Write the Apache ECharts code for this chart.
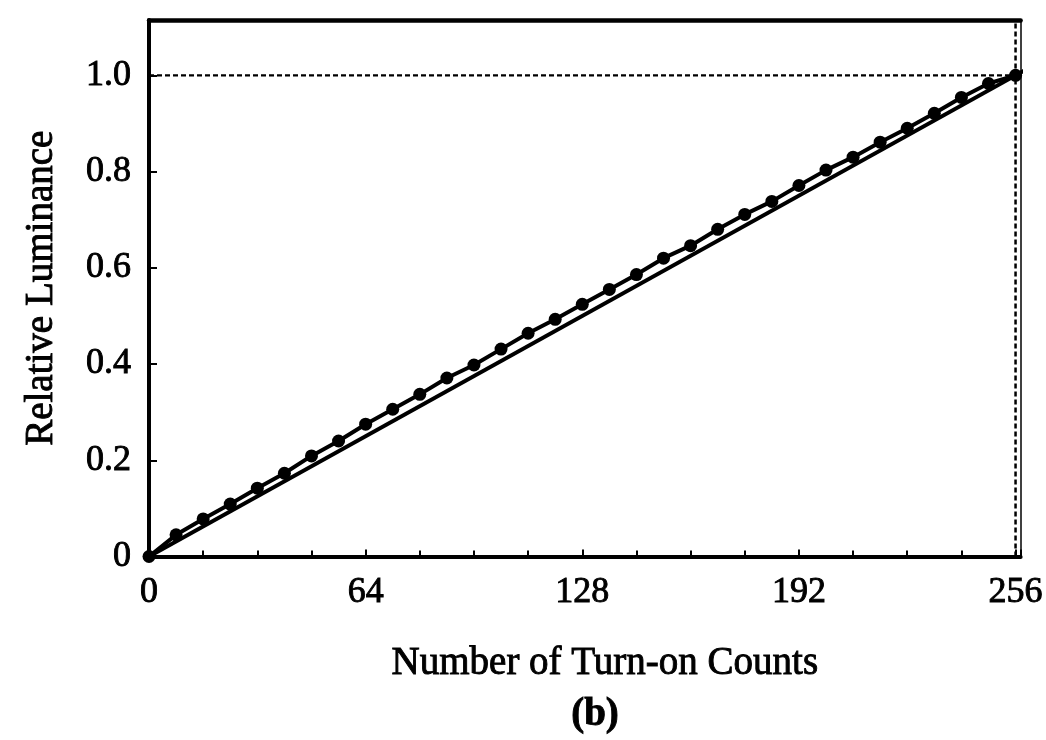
<!DOCTYPE html>
<html>
<head>
<meta charset="utf-8">
<script src="https://cdn.jsdelivr.net/npm/echarts@6/dist/echarts.min.js"></script>
<style>
html,body{margin:0;padding:0;background:#fff;}
#chart{width:1046px;height:740px;}
</style>
</head>
<body>
<div id="chart"></div>
<script>
// Measured points (turn-on counts vs relative luminance)
var counts = [0,8,16,24,32,40,48,56,64,72,80,88,96,104,112,120,128,136,144,152,160,168,176,184,192,200,208,216,224,232,240,248,256];
var luminance = [0,0.045,0.078,0.109,0.142,0.173,0.209,0.240,0.275,0.306,0.337,0.371,0.398,0.431,0.464,0.493,0.524,0.555,0.586,0.620,0.646,0.680,0.711,0.738,0.771,0.803,0.830,0.861,0.890,0.921,0.954,0.983,1.0];
// Ideal linear line (extends past the frame)
var idealX = [0, 265];
var idealY = [0, 1.035];
// Reference lines
var refHX = [0, 265];
var refHY = [1.0, 1.0];
var refVX = [256, 256];
var refVY = [0, 1.115];
// Tick labels
var xTicks = [0, 64, 128, 192, 256];
var yTicks = [0, 0.2, 0.4, 0.6, 0.8, 1.0];
var yTickLabels = ['0', '0.2', '0.4', '0.6', '0.8', '1.0'];

function pairs(xs, ys){ return xs.map(function(x,i){ return [x, ys[i]]; }); }

var FONT = '"Liberation Serif", "DejaVu Serif", serif';
function ts(size, extra){
  var o = {fontFamily:FONT, fontSize:size, color:'#000', textBorderColor:'#000', textBorderWidth:0.9};
  for (var k in (extra||{})) o[k] = extra[k];
  return o;
}
var chart = echarts.init(document.getElementById('chart'), null, {renderer:'canvas'});
chart.setOption({
  backgroundColor:'#fff',
  animation:false,
  title:[{
    text:'(b)', left:590, top:690, textAlign:'center',
    textStyle:ts(39, {fontWeight:'bold'})
  }],
  grid:{left:149, top:20, width:874, height:536.5, containLabel:false},
  xAxis:[{
    type:'value', min:0, max:257.5, interval:64,
    name:'Number of Turn-on Counts', nameLocation:'middle', nameGap:88,
    nameTextStyle:ts(39, {padding:[0,0,0,40]}),
    axisLine:{show:true, onZero:false, lineStyle:{color:'#000', width:4}},
    axisTick:{show:true, inside:true, length:7, lineStyle:{color:'#000', width:2}},
    minorTick:{show:true, splitNumber:4, length:6, lineStyle:{color:'#000', width:2}},
    splitLine:{show:false},
    axisLabel:ts(36, {margin:18,
      formatter:function(v){ return xTicks.indexOf(v) >= 0 ? String(v) : ''; }})
  },{
    type:'value', position:'top', min:0, max:257.5,
    axisLine:{show:true, onZero:false, lineStyle:{color:'#000', width:4.5}},
    axisTick:{show:false}, axisLabel:{show:false}, splitLine:{show:false}
  }],
  yAxis:[{
    type:'value', min:0, max:1.115, interval:0.2,
    name:'Relative Luminance', nameLocation:'middle', nameGap:88,
    nameTextStyle:ts(39),
    axisLine:{show:true, onZero:false, lineStyle:{color:'#000', width:4}},
    axisTick:{show:true, inside:true, length:8, lineStyle:{color:'#000', width:2}},
    splitLine:{show:false},
    axisLabel:ts(36, {margin:18,
      formatter:function(v){
        for (var i=0;i<yTicks.length;i++){ if (Math.abs(v-yTicks[i])<1e-6) return yTickLabels[i]; }
        return '';
      }})
  },{
    type:'value', position:'right', min:0, max:1.115,
    axisLine:{show:true, onZero:false, lineStyle:{color:'#000', width:1.5}},
    axisTick:{show:false}, axisLabel:{show:false}, splitLine:{show:false}
  }],
  series:[{
    type:'line', data:pairs(refHX, refHY), clip:false, symbol:'none', silent:true,
    lineStyle:{color:'#000', width:2.2, type:[5,3]}
  },{
    type:'line', data:pairs(refVX, refVY), symbol:'none', silent:true,
    lineStyle:{color:'#000', width:2.5, type:[5,3]}
  },{
    type:'line', data:pairs(idealX, idealY), clip:false, symbol:'none', silent:true,
    lineStyle:{color:'#000', width:4}
  },{
    type:'line', data:pairs(counts, luminance), clip:false, symbol:'circle', symbolSize:13, silent:true,
    itemStyle:{color:'#000'}, lineStyle:{color:'#000', width:4}
  }]
});
</script>
</body>
</html>
